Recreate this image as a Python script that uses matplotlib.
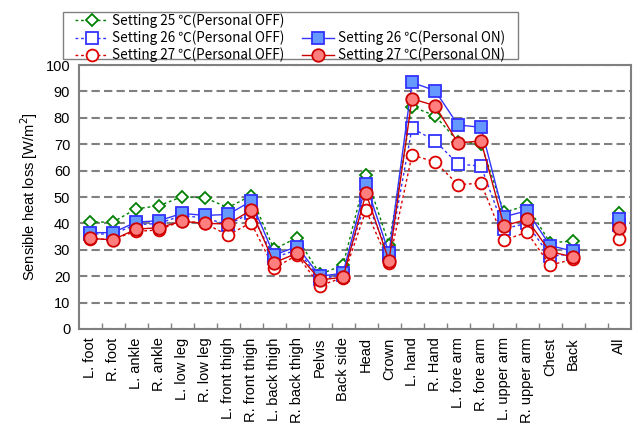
import numpy as np
import matplotlib.pyplot as plt
from matplotlib.lines import Line2D
from matplotlib.patches import Rectangle

plt.rcParams['font.family'] = ['Liberation Sans', 'DejaVu Sans']

# 部位 (空欄は All の前の区切り)
parts = ['L. foot', 'R. foot', 'L. ankle', 'R. ankle', 'L. low leg', 'R. low leg',
         'L. front thigh', 'R. front thigh', 'L. back thigh', 'R. back thigh',
         'Pelvis', 'Back side', 'Head', 'Crown', 'L. hand', 'R. Hand',
         'L. fore arm', 'R. fore arm', 'L. upper arm', 'R. upper arm',
         'Chest', 'Back', '', 'All']

# 顕熱損失量 [W/m2]
s25_off = [40.5, 40.5, 45.5, 46.7, 50.1, 49.7, 46.0, 50.5, 30.2, 34.6, 20.7, 24.2,
           58.3, 32.0, 84.2, 80.8, 71.0, 70.1, 44.2, 46.8, 32.7, 33.3, None, 43.8]
s26_off = [36.0, 36.0, 39.5, 40.0, 43.0, 42.0, 39.5, 44.0, 27.0, 30.0, 19.0, 20.5,
           48.9, 28.0, 76.1, 71.3, 62.5, 61.7, 38.0, 40.0, 27.5, 28.5, None, 39.5]
s27_off = [34.0, 34.0, 37.0, 37.5, 41.0, 40.0, 35.5, 40.3, 23.0, 28.0, 16.4, 19.5,
           45.0, 25.1, 65.9, 63.3, 54.7, 55.2, 33.7, 36.6, 24.2, 26.4, None, 34.1]
s26_on = [36.5, 36.5, 40.5, 41.0, 43.8, 43.0, 43.4, 48.4, 28.0, 31.2, 20.0, 21.1,
          54.8, 28.7, 93.4, 90.3, 77.3, 76.4, 42.5, 44.8, 31.6, 29.5, None, 41.5]
s27_on = [34.3, 33.8, 37.8, 38.4, 40.8, 40.0, 39.8, 45.0, 25.1, 28.7, 18.6, 19.6,
          51.4, 25.9, 87.2, 84.6, 70.5, 71.2, 39.1, 41.5, 29.3, 27.3, None, 38.1]

x = np.arange(len(parts))

def arr(v):
    return np.array([np.nan if a is None else a for a in v], dtype=float)

W, H = 635, 444
fig = plt.figure(figsize=(W / 100, H / 100), dpi=100)
ax = fig.add_axes([78.5 / W, 1 - 329 / H, 552 / W, 264 / H])

ax.plot(x, arr(s25_off), color='#008000', ls=(0, (2, 2)), lw=1, marker='D',
        ms=6.5, mfc='white', mec='#008000', mew=1.3, label='Setting 25 ℃(Personal OFF)')
ax.plot(x, arr(s26_off), color='#3333FF', ls=(0, (2, 2)), lw=1, marker='s',
        ms=8.5, mfc='white', mec='#3333FF', mew=1.3, label='Setting 26 ℃(Personal OFF)')
ax.plot(x, arr(s27_off), color='#DD0000', ls=(0, (2, 2)), lw=1, marker='o',
        ms=8.5, mfc='white', mec='#DD0000', mew=1.3, label='Setting 27 ℃(Personal OFF)')
ax.plot(x, arr(s26_on), color='#3333FF', ls='-', lw=1, marker='s',
        ms=9, mfc='#6699FF', mec='#3333FF', mew=1.3, label='Setting 26 ℃(Personal ON)')
ax.plot(x, arr(s27_on), color='#CC0000', ls='-', lw=1, marker='o',
        ms=9, mfc='#FF7F7F', mec='#CC0000', mew=1.3, label='Setting 27 ℃(Personal ON)')

ax.set_xlim(-0.5, len(parts) - 0.5)
ax.set_ylim(0, 100)
ax.set_yticks(np.arange(0, 101, 10))
ax.yaxis.grid(True, color='#808080', ls=(0, (4, 2)), lw=1.5)
ax.set_axisbelow(True)
ax.tick_params(axis='y', length=0, labelsize=10.5, pad=6)

ax.set_xticks(x)
ax.set_xticklabels(parts, rotation=90, fontsize=10.5)
ax.set_xticks(np.arange(0.5, len(parts) - 1, 1), minor=True)
ax.tick_params(axis='x', which='major', length=0, pad=6)
ax.tick_params(axis='x', which='minor', direction='in', length=4, color='#808080', width=1)

for sp in ax.spines.values():
    sp.set_color('#808080')
    sp.set_linewidth(1.5)

ax.set_ylabel('Sensible heat loss [W/m$^2$]', fontsize=10.5, labelpad=4)

# 凡例: 1列目 OFF 3本, 2列目 空欄 + ON 2本
h = ax.get_legend_handles_labels()[0]
blank = Line2D([], [], color='none')
handles = [h[0], h[1], h[2], blank, h[3], h[4]]
labels = [a.get_label() for a in h[:3]] + [''] + [a.get_label() for a in h[3:]]
leg = fig.legend(handles, labels, ncol=2, loc='upper left',
                 bbox_to_anchor=(74 / W, 1 - 12 / H),
                 prop={'family': ['Noto Sans CJK JP', 'DejaVu Sans'], 'size': 9.7},
                 frameon=False, borderpad=0.1, labelspacing=0.18, handlelength=2.4,
                 handletextpad=0.3, columnspacing=1.3, borderaxespad=0)

# 凡例の枠
fig.patches.append(Rectangle((63 / W, 1 - 59 / H), 455 / W, 47 / H,
                             transform=fig.transFigure, fill=False,
                             edgecolor='#808080', lw=1))

fig.savefig('out.png', dpi=100)
